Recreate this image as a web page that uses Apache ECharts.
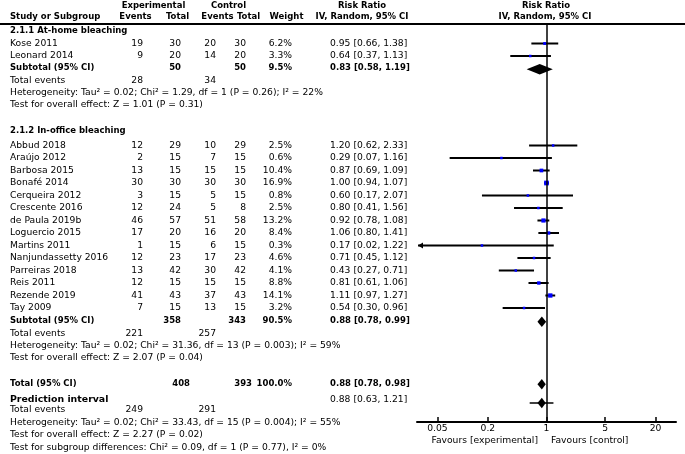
<!DOCTYPE html>
<html><head><meta charset="utf-8">
<script src="https://cdn.jsdelivr.net/npm/echarts@6/dist/echarts.min.js"></script>
<style>html,body{margin:0;padding:0;background:#fff}#c{width:685px;height:454px}</style>
</head><body><div id="c"></div>
<script>
// ---- data ----
const studies1 = ['Kose 2011', 'Leonard 2014'];
const expEv1 = [19, 9];
const expTot1 = [30, 20];
const ctrlEv1 = [20, 14];
const ctrlTot1 = [30, 20];
const weight1 = [6.2, 3.3];
const rr1 = [0.95, 0.64];
const lo1 = [0.66, 0.37];
const hi1 = [1.38, 1.13];

const studies2 = ['Abbud 2018', 'Araújo 2012', 'Barbosa 2015', 'Bonafé 2014', 'Cerqueira 2012', 'Crescente 2016', 'de Paula 2019b', 'Loguercio 2015', 'Martins 2011', 'Nanjundassetty 2016', 'Parreiras 2018', 'Reis 2011', 'Rezende 2019', 'Tay 2009'];
const expEv2 = [12, 2, 13, 30, 3, 12, 46, 17, 1, 12, 13, 12, 41, 7];
const expTot2 = [29, 15, 15, 30, 15, 24, 57, 20, 15, 23, 42, 15, 43, 15];
const ctrlEv2 = [10, 7, 15, 30, 5, 5, 51, 16, 6, 17, 30, 15, 37, 13];
const ctrlTot2 = [29, 15, 15, 30, 15, 8, 58, 20, 15, 23, 42, 15, 43, 15];
const weight2 = [2.5, 0.6, 10.4, 16.9, 0.8, 2.5, 13.2, 8.4, 0.3, 4.6, 4.1, 8.8, 14.1, 3.2];
const rr2 = [1.20, 0.29, 0.87, 1.00, 0.60, 0.80, 0.92, 1.06, 0.17, 0.71, 0.43, 0.81, 1.11, 0.54];
const lo2 = [0.62, 0.07, 0.69, 0.94, 0.17, 0.41, 0.78, 0.80, 0.02, 0.45, 0.27, 0.61, 0.97, 0.30];
const hi2 = [2.33, 1.16, 1.09, 1.07, 2.07, 1.56, 1.08, 1.41, 1.22, 1.12, 0.71, 1.06, 1.27, 0.96];

// summaries: [estimate, lower, upper]
const sub1 = [0.83, 0.58, 1.19];
const sub2 = [0.88, 0.78, 0.99];
const overall = [0.88, 0.78, 0.98];
const predInt = [0.88, 0.63, 1.21];
const sub1Totals = [50, 50, '9.5%'];
const sub2Totals = [358, 343, '90.5%'];
const allTotals = [408, 393, '100.0%'];
const events1 = [28, 34];
const events2 = [221, 257];
const eventsAll = [249, 291];

const tickValues = [0.05, 0.2, 1, 5, 20];

// ---- layout ----
const TOP = 24, BOTTOM = 422, ROW = 12.5;
const GL = 417, GR = 676;
const ry = r => TOP + r * ROW;
const FONT = "9.2px 'DejaVu Sans'";
const BFONT = "bold 8.5px 'DejaVu Sans'";
const COL = {name: 10, expEv: 143, expTot: 181, ctrlEv: 216, ctrlTot: 246, weight: 292, ci: 330};

const rows1 = studies1.map((s, i) => 1.56 + i);
const rows2 = studies2.map((s, i) => 9.72 + i);

const fmt = v => v.toFixed(2);
const ciText = (e, l, h) => fmt(e) + ' [' + fmt(l) + ', ' + fmt(h) + ']';

const g = [];
function T(text, x, y, align, bold) {
  g.push({type: 'text', x: x, y: y, silent: true,
    style: {text: String(text), font: bold ? BFONT : FONT, fill: '#000', align: align || 'left', verticalAlign: 'middle'}});
}
// header
T('Experimental', 153.5, 5.5, 'center', true);
T('Control', 228.5, 5.5, 'center', true);
T('Risk Ratio', 362, 5.5, 'center', true);
T('Risk Ratio', 546, 5.5, 'center', true);
T('Study or Subgroup', COL.name, 16.7, 'left', true);
T('Events', 135.5, 16.7, 'center', true);
T('Total', 177.5, 16.7, 'center', true);
T('Events', 217.5, 16.7, 'center', true);
T('Total', 248.5, 16.7, 'center', true);
T('Weight', 286.5, 16.7, 'center', true);
T('IV, Random, 95% CI', 362, 16.7, 'center', true);
T('IV, Random, 95% CI', 545, 16.7, 'center', true);
g.push({type: 'line', silent: true, shape: {x1: 0, y1: 24, x2: 685, y2: 24}, style: {stroke: '#000', lineWidth: 2}});

function studyRow(name, a, b, c, d, w, e, l, h, r) {
  const y = ry(r);
  T(name, COL.name, y, 'left');
  T(a, COL.expEv, y, 'right');
  T(b, COL.expTot, y, 'right');
  T(c, COL.ctrlEv, y, 'right');
  T(d, COL.ctrlTot, y, 'right');
  T(w.toFixed(1) + '%', COL.weight, y, 'right');
  T(ciText(e, l, h), COL.ci, y, 'left');
}
// subgroup 1
T('2.1.1 At-home bleaching', COL.name, ry(0.56), 'left', true);
studies1.forEach((s, i) => studyRow(s, expEv1[i], expTot1[i], ctrlEv1[i], ctrlTot1[i], weight1[i], rr1[i], lo1[i], hi1[i], rows1[i]));
T('Subtotal (95% CI)', COL.name, ry(3.48), 'left', true);
T(sub1Totals[0], COL.expTot, ry(3.48), 'right', true);
T(sub1Totals[1], COL.ctrlTot, ry(3.48), 'right', true);
T(sub1Totals[2], COL.weight, ry(3.48), 'right', true);
T(ciText(sub1[0], sub1[1], sub1[2]), COL.ci, ry(3.48), 'left', true);
T('Total events', COL.name, ry(4.52), 'left');
T(events1[0], COL.expEv, ry(4.52), 'right');
T(events1[1], COL.ctrlEv, ry(4.52), 'right');
T('Heterogeneity: Tau² = 0.02; Chi² = 1.29, df = 1 (P = 0.26); I² = 22%', COL.name, ry(5.48), 'left');
T('Test for overall effect: Z = 1.01 (P = 0.31)', COL.name, ry(6.44), 'left');

// subgroup 2
T('2.1.2 In-office bleaching', COL.name, ry(8.56), 'left', true);
studies2.forEach((s, i) => studyRow(s, expEv2[i], expTot2[i], ctrlEv2[i], ctrlTot2[i], weight2[i], rr2[i], lo2[i], hi2[i], rows2[i]));
T('Subtotal (95% CI)', COL.name, ry(23.72), 'left', true);
T(sub2Totals[0], COL.expTot, ry(23.72), 'right', true);
T(sub2Totals[1], COL.ctrlTot, ry(23.72), 'right', true);
T(sub2Totals[2], COL.weight, ry(23.72), 'right', true);
T(ciText(sub2[0], sub2[1], sub2[2]), COL.ci, ry(23.72), 'left', true);
T('Total events', COL.name, ry(24.76), 'left');
T(events2[0], COL.expEv, ry(24.76), 'right');
T(events2[1], COL.ctrlEv, ry(24.76), 'right');
T('Heterogeneity: Tau² = 0.02; Chi² = 31.36, df = 13 (P = 0.003); I² = 59%', COL.name, ry(25.76), 'left');
T('Test for overall effect: Z = 2.07 (P = 0.04)', COL.name, ry(26.72), 'left');

// overall
T('Total (95% CI)', COL.name, ry(28.8), 'left', true);
T(allTotals[0], COL.expTot + 9, ry(28.8), 'right', true);
T(allTotals[1], COL.ctrlTot + 6, ry(28.8), 'right', true);
T(allTotals[2], COL.weight, ry(28.8), 'right', true);
T(ciText(overall[0], overall[1], overall[2]), COL.ci, ry(28.8), 'left', true);
g.push({type: 'text', x: COL.name, y: ry(30.04), silent: true, style: {text: 'Prediction interval', font: "bold 9.4px 'DejaVu Sans'", fill: '#000', align: 'left', verticalAlign: 'middle'}});
T(ciText(predInt[0], predInt[1], predInt[2]), COL.ci, ry(30.04), 'left');
T('Total events', COL.name, ry(30.88), 'left');
T(eventsAll[0], COL.expEv, ry(30.88), 'right');
T(eventsAll[1], COL.ctrlEv, ry(30.88), 'right');
T('Heterogeneity: Tau² = 0.02; Chi² = 33.43, df = 15 (P = 0.004); I² = 55%', COL.name, ry(31.88), 'left');
T('Test for overall effect: Z = 2.27 (P = 0.02)', COL.name, ry(32.88), 'left');
T('Test for subgroup differences: Chi² = 0.09, df = 1 (P = 0.77), I² = 0%', COL.name, ry(33.88), 'left');

// favours labels
T('Favours [experimental]', 538, 441, 'right');
T('Favours [control]', 551, 441, 'left');

// ---- marks data ----
const studyData = [];
studies1.forEach((s, i) => studyData.push([rr1[i], rows1[i], lo1[i], hi1[i], weight1[i]]));
studies2.forEach((s, i) => studyData.push([rr2[i], rows2[i], lo2[i], hi2[i], weight2[i]]));
const diamondData = [
  [sub1[0], 3.62, sub1[1], sub1[2], 0],
  [sub2[0], 23.82, sub2[1], sub2[2], 0],
  [overall[0], 28.82, overall[1], overall[2], 0]
];
const predData = [[predInt[0], 30.32, predInt[1], predInt[2], overall[1], overall[2]]];

function renderStudy(params, api) {
  const cs = params.coordSys;
  const r = api.value(1);
  const p = api.coord([api.value(0), r]);
  let xl = api.coord([api.value(2), r])[0];
  let xh = api.coord([api.value(3), r])[0];
  const children = [];
  let arrowL = false, arrowR = false;
  if (xl < cs.x) { xl = cs.x + 1; arrowL = true; }
  if (xh > cs.x + cs.width) { xh = cs.x + cs.width - 1; arrowR = true; }
  children.push({type: 'line', shape: {x1: xl, y1: p[1], x2: xh, y2: p[1]}, style: {stroke: '#000', lineWidth: 2}});
  if (arrowL) children.push({type: 'polygon', shape: {points: [[xl, p[1]], [xl + 5, p[1] - 3], [xl + 5, p[1] + 3]]}, style: {fill: '#000'}});
  if (arrowR) children.push({type: 'polygon', shape: {points: [[xh, p[1]], [xh - 5, p[1] - 3], [xh - 5, p[1] + 3]]}, style: {fill: '#000'}});
  const s = Math.max(2.5, 1.15 * Math.sqrt(api.value(4)));
  children.push({type: 'rect', shape: {x: p[0] - s / 2, y: p[1] - s / 2, width: s, height: s}, style: {fill: '#0000ff'}});
  return {type: 'group', children: children};
}
function renderDiamond(params, api) {
  const r = api.value(1);
  const p = api.coord([api.value(0), r]);
  const xl = api.coord([api.value(2), r])[0];
  const xh = api.coord([api.value(3), r])[0];
  const h = 5.2;
  return {type: 'polygon', shape: {points: [[xl, p[1]], [p[0], p[1] - h], [xh, p[1]], [p[0], p[1] + h]]}, style: {fill: '#000'}};
}
function renderPred(params, api) {
  const r = api.value(1);
  const p = api.coord([api.value(0), r]);
  const xl = api.coord([api.value(2), r])[0];
  const xh = api.coord([api.value(3), r])[0];
  const dl = api.coord([api.value(4), r])[0];
  const dh = api.coord([api.value(5), r])[0];
  const h = 5.2;
  return {type: 'group', children: [
    {type: 'line', shape: {x1: xl, y1: p[1], x2: xh, y2: p[1]}, style: {stroke: '#000', lineWidth: 1.5}},
    {type: 'polygon', shape: {points: [[dl, p[1]], [p[0], p[1] - h], [dh, p[1]], [p[0], p[1] + h]]}, style: {fill: '#000'}}
  ]};
}

const chart = echarts.init(document.getElementById('c'), null, {renderer: 'canvas'});
chart.setOption({
  animation: false,
  backgroundColor: '#fff',
  grid: {left: GL, top: TOP, width: GR - GL, height: BOTTOM - TOP, containLabel: false},
  xAxis: {
    type: 'log', logBase: 10, min: 1 / 35, max: 35,
    splitLine: {show: false},
    axisLine: {show: true, onZero: false, lineStyle: {color: '#000', width: 2}},
    axisTick: {show: true, inside: true, length: 5, customValues: tickValues, lineStyle: {color: '#000', width: 1.5}},
    axisLabel: {show: true, customValues: tickValues, margin: 2, color: '#000', fontFamily: 'DejaVu Sans', fontSize: 9.2,
      formatter: v => String(+(+v).toPrecision(3))},
    minorTick: {show: false}
  },
  yAxis: {type: 'value', inverse: true, min: 0, max: (BOTTOM - TOP) / ROW, show: false},
  series: [
    {type: 'custom', renderItem: renderStudy, data: studyData, encode: {x: 0, y: 1}, clip: false,
      markLine: {silent: true, symbol: ['none', 'none'], label: {show: false}, lineStyle: {color: '#000', width: 1.5, type: 'solid'}, data: [{xAxis: 1}]}},
    {type: 'custom', renderItem: renderDiamond, data: diamondData, encode: {x: 0, y: 1}},
    {type: 'custom', renderItem: renderPred, data: predData, encode: {x: 0, y: 1}}
  ],
  graphic: g
});
</script>
</body></html>
